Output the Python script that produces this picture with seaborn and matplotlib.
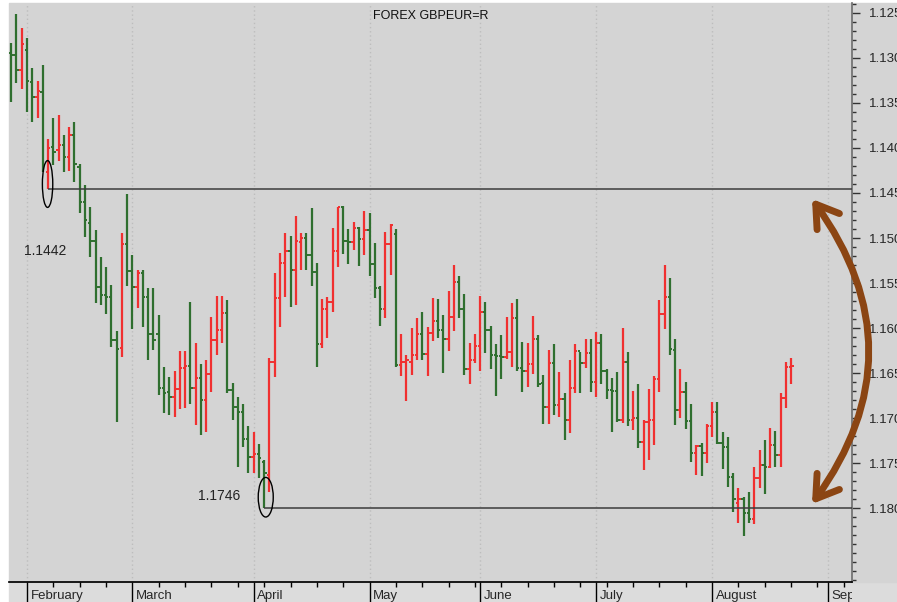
import numpy as np
import pandas as pd
import matplotlib
matplotlib.use("Agg")
import matplotlib.pyplot as plt
import seaborn as sns
from matplotlib.patches import Ellipse, FancyArrowPatch, Rectangle
from matplotlib.ticker import FixedLocator, NullFormatter
from matplotlib.transforms import Bbox, TransformedBbox

# daily OHLC (business days from 27 Jan 2010)
first_day = "2010-01-27"

open_ = [1.1294, 1.1297, 1.1313, 1.1291, 1.1327, 1.1343, 1.1338, 1.1427, 1.1399, 1.1402,
         1.1397, 1.1410, 1.1386, 1.1421, 1.1460, 1.1483, 1.1503, 1.1554, 1.1563, 1.1566,
         1.1613, 1.1622, 1.1507, 1.1537, 1.1554, 1.1539, 1.1566, 1.1607, 1.1607, 1.1667,
         1.1671, 1.1677, 1.1668, 1.1644, 1.1642, 1.1667, 1.1656, 1.1680, 1.1651, 1.1613,
         1.1602, 1.1583, 1.1669, 1.1688, 1.1693, 1.1723, 1.1743, 1.1740, 1.1749, 1.1763,
         1.1638, 1.1567, 1.1528, 1.1514, 1.1536, 1.1504, 1.1500, 1.1519, 1.1538, 1.1618,
         1.1579, 1.1571, 1.1514, 1.1466, 1.1503, 1.1504, 1.1489, 1.1501, 1.1491, 1.1529,
         1.1556, 1.1579, 1.1507, 1.1496, 1.1641, 1.1638, 1.1638, 1.1630, 1.1607, 1.1629,
         1.1606, 1.1592, 1.1602, 1.1612, 1.1588, 1.1549, 1.1579, 1.1646, 1.1636, 1.1620,
         1.1582, 1.1602, 1.1630, 1.1631, 1.1632, 1.1627, 1.1589, 1.1644, 1.1648, 1.1640,
         1.1612, 1.1661, 1.1688, 1.1639, 1.1686, 1.1679, 1.1702, 1.1667, 1.1626, 1.1639,
         1.1628, 1.1660, 1.1617, 1.1648, 1.1669, 1.1670, 1.1702, 1.1638, 1.1702, 1.1700,
         1.1727, 1.1704, 1.1702, 1.1657, 1.1584, 1.1566, 1.1624, 1.1691, 1.1671, 1.1703,
         1.1739, 1.1731, 1.1739, 1.1709, 1.1693, 1.1728, 1.1732, 1.1766, 1.1794, 1.1790,
         1.1806, 1.1812, 1.1767, 1.1752, 1.1754, 1.1730, 1.1741, 1.1678, 1.1643]

high = [1.1283, 1.1251, 1.1267, 1.1278, 1.1311, 1.1326, 1.1308, 1.1390, 1.1367, 1.1363,
        1.1386, 1.1377, 1.1371, 1.1418, 1.1441, 1.1466, 1.1491, 1.1521, 1.1532, 1.1552,
        1.1603, 1.1494, 1.1451, 1.1519, 1.1536, 1.1536, 1.1556, 1.1556, 1.1586, 1.1643,
        1.1654, 1.1648, 1.1626, 1.1626, 1.1571, 1.1617, 1.1640, 1.1636, 1.1588, 1.1564,
        1.1564, 1.1569, 1.1661, 1.1677, 1.1684, 1.1709, 1.1716, 1.1729, 1.1747, 1.1633,
        1.1539, 1.1517, 1.1494, 1.1498, 1.1476, 1.1494, 1.1494, 1.1467, 1.1528, 1.1568,
        1.1566, 1.1489, 1.1466, 1.1464, 1.1490, 1.1482, 1.1488, 1.1470, 1.1472, 1.1506,
        1.1553, 1.1493, 1.1484, 1.1490, 1.1607, 1.1630, 1.1600, 1.1589, 1.1582, 1.1599,
        1.1567, 1.1568, 1.1586, 1.1559, 1.1530, 1.1542, 1.1562, 1.1617, 1.1607, 1.1564,
        1.1571, 1.1598, 1.1618, 1.1608, 1.1588, 1.1572, 1.1568, 1.1616, 1.1617, 1.1587,
        1.1608, 1.1652, 1.1624, 1.1618, 1.1649, 1.1672, 1.1636, 1.1618, 1.1627, 1.1612,
        1.1612, 1.1604, 1.1607, 1.1646, 1.1656, 1.1649, 1.1600, 1.1627, 1.1670, 1.1662,
        1.1702, 1.1668, 1.1653, 1.1569, 1.1530, 1.1544, 1.1612, 1.1646, 1.1660, 1.1684,
        1.1730, 1.1728, 1.1707, 1.1682, 1.1682, 1.1716, 1.1721, 1.1761, 1.1778, 1.1788,
        1.1782, 1.1754, 1.1736, 1.1724, 1.1711, 1.1714, 1.1672, 1.1638, 1.1633]

low = [1.1349, 1.1328, 1.1334, 1.1360, 1.1371, 1.1367, 1.1427, 1.1446, 1.1419, 1.1414,
       1.1427, 1.1426, 1.1438, 1.1472, 1.1499, 1.1521, 1.1572, 1.1574, 1.1584, 1.1621,
       1.1704, 1.1632, 1.1553, 1.1601, 1.1578, 1.1599, 1.1636, 1.1624, 1.1674, 1.1694,
       1.1697, 1.1699, 1.1690, 1.1689, 1.1684, 1.1708, 1.1719, 1.1716, 1.1671, 1.1630,
       1.1617, 1.1672, 1.1702, 1.1754, 1.1732, 1.1761, 1.1761, 1.1767, 1.1800, 1.1782,
       1.1654, 1.1599, 1.1566, 1.1577, 1.1574, 1.1536, 1.1536, 1.1553, 1.1643, 1.1622,
       1.1611, 1.1582, 1.1532, 1.1518, 1.1529, 1.1513, 1.1531, 1.1519, 1.1542, 1.1567,
       1.1598, 1.1589, 1.1541, 1.1643, 1.1653, 1.1681, 1.1652, 1.1636, 1.1636, 1.1653,
       1.1614, 1.1611, 1.1650, 1.1626, 1.1603, 1.1589, 1.1652, 1.1662, 1.1639, 1.1648,
       1.1628, 1.1646, 1.1676, 1.1657, 1.1634, 1.1643, 1.1648, 1.1671, 1.1666, 1.1651,
       1.1666, 1.1707, 1.1707, 1.1697, 1.1699, 1.1724, 1.1717, 1.1672, 1.1672, 1.1644,
       1.1671, 1.1677, 1.1662, 1.1679, 1.1716, 1.1704, 1.1706, 1.1709, 1.1713, 1.1733,
       1.1758, 1.1747, 1.1730, 1.1671, 1.1601, 1.1630, 1.1708, 1.1700, 1.1712, 1.1749,
       1.1763, 1.1764, 1.1750, 1.1721, 1.1729, 1.1757, 1.1777, 1.1804, 1.1817, 1.1831,
       1.1817, 1.1818, 1.1778, 1.1784, 1.1756, 1.1754, 1.1754, 1.1689, 1.1662]

close = [1.1297, 1.1313, 1.1284, 1.1326, 1.1343, 1.1337, 1.1419, 1.1400, 1.1404, 1.1397,
         1.1410, 1.1386, 1.1418, 1.1460, 1.1480, 1.1503, 1.1554, 1.1563, 1.1566, 1.1613,
         1.1623, 1.1507, 1.1537, 1.1554, 1.1539, 1.1566, 1.1607, 1.1613, 1.1667, 1.1672,
         1.1677, 1.1668, 1.1644, 1.1642, 1.1667, 1.1656, 1.1680, 1.1651, 1.1613, 1.1602,
         1.1583, 1.1669, 1.1688, 1.1693, 1.1723, 1.1743, 1.1740, 1.1744, 1.1761, 1.1638,
         1.1567, 1.1528, 1.1514, 1.1536, 1.1503, 1.1500, 1.1519, 1.1538, 1.1618, 1.1579,
         1.1571, 1.1514, 1.1466, 1.1503, 1.1504, 1.1489, 1.1501, 1.1491, 1.1529, 1.1556,
         1.1579, 1.1507, 1.1486, 1.1641, 1.1638, 1.1636, 1.1630, 1.1607, 1.1629, 1.1606,
         1.1592, 1.1602, 1.1612, 1.1588, 1.1549, 1.1579, 1.1646, 1.1636, 1.1620, 1.1582,
         1.1602, 1.1630, 1.1631, 1.1632, 1.1627, 1.1589, 1.1644, 1.1648, 1.1640, 1.1612,
         1.1662, 1.1688, 1.1639, 1.1686, 1.1679, 1.1702, 1.1667, 1.1626, 1.1639, 1.1628,
         1.1660, 1.1617, 1.1648, 1.1669, 1.1670, 1.1702, 1.1638, 1.1702, 1.1700, 1.1727,
         1.1704, 1.1702, 1.1657, 1.1584, 1.1566, 1.1623, 1.1691, 1.1671, 1.1703, 1.1739,
         1.1731, 1.1739, 1.1709, 1.1693, 1.1728, 1.1732, 1.1766, 1.1790, 1.1790, 1.1806,
         1.1812, 1.1767, 1.1752, 1.1754, 1.1730, 1.1741, 1.1678, 1.1643, 1.1642]

# marked levels: where the lines are drawn, and the text written next to them
level_lines = [1.1446, 1.1800]
level_start_bar = [7, 48]
level_texts = ["1.1442", "1.1746"]

y_ticks = [1.125, 1.130, 1.135, 1.140, 1.145, 1.150, 1.155, 1.160, 1.165, 1.170, 1.175, 1.180]
month_names = ["February", "March", "April", "May", "June", "July", "August", "September"]

sns.set_theme(style="white")
plt.rcParams['font.family'] = ['Liberation Sans', 'DejaVu Sans']

df = pd.DataFrame({"open": open_, "high": high, "low": low, "close": close})
df["x"] = np.arange(len(df))
df["color"] = np.where(df["close"] >= df["open"], "#2f6f2f", "#f03030")

# trading calendar used for the axis (runs on past the last bar)
days = pd.bdate_range(first_day, "2010-09-20")
month_start = [i for i in range(1, len(days)) if days[i].month != days[i - 1].month]
mondays = [i for i in range(len(days)) if days[i].weekday() == 0]

fig = plt.figure(figsize=(8.97, 6.02), dpi=100, facecolor="white")
fig.patches.append(Rectangle((9 / 897, 0), 1, 20 / 602, transform=fig.transFigure,
                             color="#dcdcdc", zorder=-10))
fig.patches.append(Rectangle((9 / 897, 20 / 602), 1, 579 / 602, transform=fig.transFigure,
                             color="#d4d4d4", zorder=-10))
ax = fig.add_axes([9 / 897, 20 / 602, 843 / 897, 579 / 602])
ax.set_zorder(1)
ax.set_facecolor("#d4d4d4")

# month grid
for m in month_start:
    ax.axvline(m, color="#bdbdbd", lw=1, ls=(0, (1, 2)), zorder=1)

# OHLC bars
ax.vlines(df["x"], df["low"], df["high"], colors=df["color"], lw=1.6, zorder=3)
ax.hlines(df["open"], df["x"] - 0.45, df["x"], colors=df["color"], lw=1.4, zorder=3)
ax.hlines(df["close"], df["x"], df["x"] + 0.45, colors=df["color"], lw=1.4, zorder=3)

x_right = 159.55
for lvl, xs in zip(level_lines, level_start_bar):
    ax.hlines(lvl, xs, x_right, colors="#3c3c3c", lw=1.1, zorder=4)

ax.add_patch(Ellipse((6.9, 1.1440), 1.97, 0.0052, fill=False, ec="black", lw=1, zorder=5))
ax.add_patch(Ellipse((48.3, 1.1788), 2.85, 0.0044, fill=False, ec="black", lw=1, zorder=5))
ax.text(2.45, 1.1514, level_texts[0], fontsize=10, color="#222222", va="center", ha="left")
ax.text(35.4, 1.1787, level_texts[1], fontsize=10, color="#222222", va="center", ha="left")

ax.text(0.5, 0.978, "FOREX GBPEUR=R", transform=ax.transAxes, ha="center", va="center",
        fontsize=9, color="#111111")

ax.set_xlim(-0.42, x_right)
ax.set_ylim(1.18822, 1.12389)

# axes: prices on the right, months below
for s in ["top", "left"]:
    ax.spines[s].set_visible(False)
ax.spines["right"].set_color("#707070")
ax.spines["bottom"].set_color("black")
ax.yaxis.tick_right()
ax.set_yticks(y_ticks)
ax.set_yticklabels([f"{v:.3f}" for v in y_ticks])
ax.yaxis.set_minor_locator(FixedLocator(np.round(np.arange(1.124, 1.189, 0.001), 3)))
ax.tick_params(axis="y", which="major", direction="out", length=5.5, width=1,
               color="#333333", labelsize=9.5, pad=6.5, right=True, left=False)
ax.tick_params(axis="y", which="minor", direction="out", length=3, width=1,
               color="#333333", right=True, left=False)

ax.set_xticks(month_start)
ax.set_xticklabels([])
ax.xaxis.set_minor_locator(FixedLocator(mondays))
ax.xaxis.set_minor_formatter(NullFormatter())
ax.tick_params(axis="x", which="major", direction="out", length=16, width=1, color="black",
               bottom=True)
ax.tick_params(axis="x", which="minor", direction="out", length=3.5, width=1, color="black",
               bottom=True)

# month names stop at the price axis, as in the original
label_clip = TransformedBbox(Bbox([[0, 0], [852 / 897, 1]]), fig.transFigure)
for m, name in zip(month_start, month_names):
    t = ax.annotate(name, xy=(m, 0), xycoords=("data", "axes fraction"), xytext=(2.5, -5.5),
                    textcoords="offset points", ha="left", va="top", fontsize=9.5,
                    annotation_clip=False)
    t.set_clip_box(label_clip)
    t.set_clip_on(True)

# curved double arrow between the two levels
arrow = FancyArrowPatch((812 / 897, 1 - 199 / 602), (812 / 897, 1 - 504 / 602),
                        transform=fig.transFigure, connectionstyle="arc3,rad=-0.36",
                        arrowstyle="<->,head_length=0.7,head_width=0.45", mutation_scale=22,
                        color="#8b4513", lw=5, shrinkA=0, shrinkB=0, zorder=10)
arrow.set_zorder(10)
fig.add_artist(arrow)

fig.savefig("out.png", dpi=100, facecolor=fig.get_facecolor())
